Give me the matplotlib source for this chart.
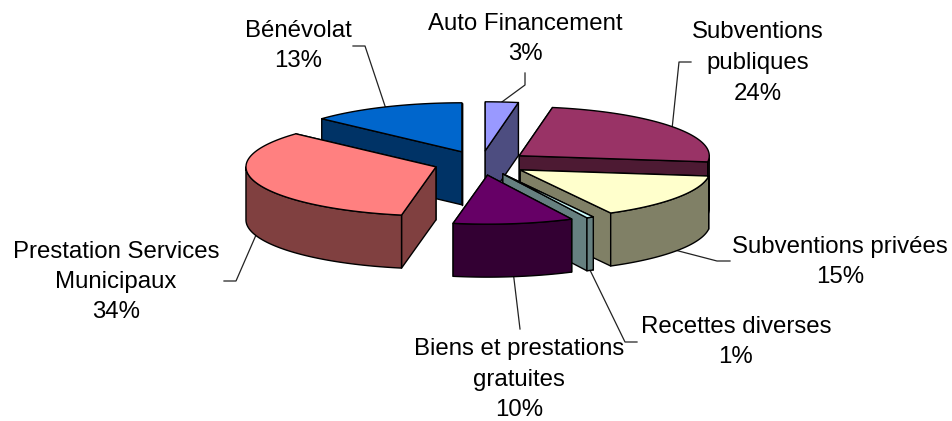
import numpy as np
import matplotlib
matplotlib.use("Agg")
import matplotlib.pyplot as plt

# Data
names = ["Auto Financement", "Subventions\npubliques", "Subventions privées", "Recettes diverses",
         "Biens et prestations\ngratuites", "Prestation Services\nMunicipaux", "Bénévolat"]
values = [2.8, 24.2, 15.1, 0.6, 10.2, 33.9, 13.2]
top_colors = ["#9999FF", "#993366", "#FFFFCC", "#CCFFFF", "#660066", "#FF8080", "#0066CC"]
wall_colors = ["#4D4D80", "#4D1A33", "#808066", "#668080", "#330033", "#804040", "#003366"]
draw_order = [0, 6, 1, 5, 2, 3, 4]

# Layout (pixels)
CX, CY, RX, RY, DEPTH, EXPLODE = 481, 163, 190, 49, 53, 0.25
label_xy = [(525, 39), (758, 63), (840, 262), (736, 342), (519, 380), (116, 282), (298, 46)]
elbows = [[(525, 73), (525, 85)], [(691, 62), (679, 62)], [(730, 261), (717, 261)],
          [(637, 342), (625, 342)], [(520, 329)], [(224, 281), (236, 281)], [(353, 46), (365, 46)]]
FONT = 17.3

fig = plt.figure(figsize=(9.52, 4.21), dpi=100)
ax = fig.add_axes([0, 0, 1, 1])
ax.set_xlim(0, 952)
ax.set_ylim(421, 0)
ax.axis("off")


def pt(theta, r=1.0):
    return RX * r * np.sin(theta), -RY * r * np.cos(theta)


edges = np.radians(np.concatenate([[0], np.cumsum(values)]) * 360 / sum(values))
kw = dict(edgecolor="black", linewidth=1.0, joinstyle="round")

for n, i in enumerate(draw_order):
    a0, a1 = edges[i], edges[i + 1]
    mid = (a0 + a1) / 2
    ox, oy = pt(mid, EXPLODE)
    ax0, ay0 = CX + ox, CY + oy
    z = 10 + n * 5
    # cut faces, back one first
    cuts = sorted([a0, a1], key=lambda a: -np.cos(a))
    for k, a in enumerate(cuts):
        px, py = pt(a)
        ax.fill([ax0, ax0 + px, ax0 + px, ax0], [ay0, ay0 + py, ay0 + py + DEPTH, ay0 + DEPTH],
                facecolor=wall_colors[i], zorder=z + k, **kw)
    # outer wall on the near half of the rim
    lo, hi = max(a0, np.pi / 2), min(a1, 3 * np.pi / 2)
    if hi > lo:
        t = np.linspace(lo, hi, 60)
        px, py = pt(t)
        xs = np.concatenate([ax0 + px, (ax0 + px)[::-1]])
        ys = np.concatenate([ay0 + py, (ay0 + py + DEPTH)[::-1]])
        ax.fill(xs, ys, facecolor=wall_colors[i], zorder=z + 2, **kw)
    # top
    t = np.linspace(a0, a1, 80)
    px, py = pt(t)
    ax.fill(np.r_[ax0, ax0 + px], np.r_[ay0, ay0 + py], facecolor=top_colors[i], zorder=z + 3, **kw)

    # leader & label
    ex, ey = pt(mid)
    ax_pt = (ax0 + ex, ay0 + ey + (DEPTH if np.cos(mid) < 0 else 0))
    path = elbows[i] + [ax_pt]
    ax.plot([p[0] for p in path], [p[1] for p in path], color="#222222", lw=0.9, zorder=5)
    ax.text(label_xy[i][0], label_xy[i][1], f"{names[i]}\n{values[i]:.0f}%", ha="center", va="center",
            ma="center", fontsize=FONT, family="Liberation Sans", color="black", linespacing=1.5, zorder=100)

fig.savefig("out.png", dpi=100, facecolor="white")
